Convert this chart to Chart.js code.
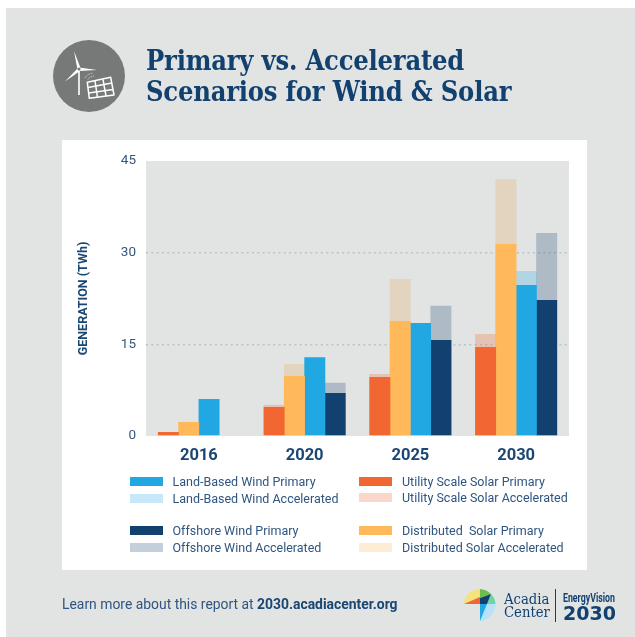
<!DOCTYPE html>
<html>
<head>
<meta charset="utf-8">
<script src="https://cdn.jsdelivr.net/npm/chart.js@4"></script>
<style>
html,body{margin:0;padding:0;background:#fff;width:635px;height:637px;overflow:hidden}
#panel{position:absolute;left:6px;top:8px;width:629px;height:629px;background:#e2e4e3}
#card{position:absolute;left:62px;top:140px;width:525px;height:430px;background:#fff}
#chartBox{position:absolute;left:0;top:0;width:635px;height:637px}
.abs{position:absolute;white-space:nowrap}
#title{left:146px;top:45px;font:bold 27px/31px "DejaVu Serif Condensed","DejaVu Serif",serif;letter-spacing:-0.2px;color:#12416f}
.lg{position:absolute;white-space:pre;font:12.5px/14px Roboto,sans-serif;color:#2f5580}
.sw{position:absolute;width:33px;height:9px}
#foot{left:62px;top:596px;font:13.9px/16px Roboto,sans-serif;color:#2f5580}
#foot b{color:#1a4674}
</style>
</head>
<body>
<div id="panel"></div>
<div id="card"></div>
<div id="chartBox"><canvas id="c" width="635" height="637"></canvas></div>

<svg class="abs" style="left:53px;top:40px" width="72" height="72" viewBox="0 0 72 72">
<circle cx="36" cy="36" r="36" fill="#777978"/>
<g fill="#fff">
<polygon points="21,11 27.5,28 24.5,29.5"/>
<polygon points="26,27.5 44,30 26,31"/>
<polygon points="24.5,28.5 27,31 12,41.5"/>
<rect x="25.2" y="30" width="1.6" height="25"/>
</g>
<circle cx="26" cy="29" r="1.6" fill="#777978"/>
<g fill="none" stroke="#fff" stroke-width="1.5" stroke-linejoin="round">
<polygon points="34.3,42.3 57.7,37.3 61,55 36.3,58.3"/>
<line x1="35" y1="47.5" x2="58.8" y2="43"/>
<line x1="35.7" y1="53" x2="60" y2="49.5"/>
<line x1="42" y1="41" x2="44.5" y2="57.5"/>
<line x1="50" y1="39.5" x2="53" y2="56"/>
</g>
<path d="M32,38 Q34,34 40,33" fill="none" stroke="#e2e4e3" stroke-width="1" stroke-dasharray="1 1"/>
<path d="M35,39.5 Q36,37 41,36" fill="none" stroke="#e2e4e3" stroke-width="1" stroke-dasharray="1 1"/>
</svg>

<div id="title" class="abs">Primary vs. Accelerated<br>Scenarios for Wind &amp; Solar</div>
<div id="legend"></div>
<div id="foot" class="abs">Learn more about this report at <b>2030.acadiacenter.org</b></div>

<svg class="abs" style="left:460px;top:586px" width="40" height="40" viewBox="0 0 40 40">
<path d="M4,18 A16,15 0 0 1 20,3 L20,11 Z" fill="#f5e27a"/>
<polygon points="4,18 20,11 20,18" fill="#f26631"/>
<path d="M20,3 A16,15 0 0 1 31,8 L20,12 Z" fill="#6cc04a"/>
<path d="M31,8 A16,15 0 0 1 35.5,18 L27,18 Z" fill="#6fd5a5"/>
<polygon points="20,18 20,12 31,8 27,18" fill="#12416f"/>
<path d="M20,35 A16,17 0 0 0 35.5,18 L27,18 Z" fill="#b8e2f8"/>
<polygon points="20,18 27,18 20,35" fill="#21a7e1"/>
</svg>
<div class="abs" style="left:504px;top:592px;font:14.7px/13px 'DejaVu Serif Condensed','DejaVu Serif',serif;color:#12416f">Acadia<br>Center</div>
<div class="abs" style="left:555px;top:589px;width:1px;height:33px;background:#12416f"></div>
<svg class="abs" style="left:560px;top:588px" width="64" height="36" viewBox="0 0 64 36">
<text x="3" y="14" textLength="52" lengthAdjust="spacingAndGlyphs" font-family="Roboto" font-weight="bold" font-size="12.5" fill="#12416f">EnergyVision</text>
<text x="3" y="32" textLength="53" lengthAdjust="spacingAndGlyphs" font-family="DejaVu Sans" font-weight="bold" font-size="19" fill="#12416f">2030</text>
</svg>

<script>
const categories = ['2016', '2020', '2025', '2030'];
const yTicks = [0, 15, 30, 45];
const yAxisTitle = 'GENERATION (TWh)';

const utilityPrimary = [0.65, 4.75, 9.65, 14.55];
const utilityAccelerated = [null, 5.1, 10.15, 16.7];
const distributedPrimary = [2.3, 9.8, 18.8, 31.4];
const distributedAccelerated = [null, 11.8, 25.7, 42];
const landPrimary = [6.05, 12.9, 18.5, 24.7];
const landAccelerated = [null, null, null, 27];
const offshorePrimary = [null, 7.05, 15.7, 22.25];
const offshoreAccelerated = [null, 8.7, 21.3, 33.2];

const legendLeft = [
  ['Land-Based Wind Primary', '#21a7e1', 481.5],
  ['Land-Based Wind Accelerated', '#c6e8f8', 498.5],
  ['Offshore Wind Primary', '#12416f', 530.5],
  ['Offshore Wind Accelerated', '#c3cfda', 547.5]
];
const legendRight = [
  ['Utility Scale Solar Primary', '#f26631', 481.5],
  ['Utility Scale Solar Accelerated', '#fbd6cc', 497.5],
  ['Distributed  Solar Primary', '#ffb95a', 530.5],
  ['Distributed Solar Accelerated', '#feecd4', 547.5]
];

function addLegend(rows, swatchX, textX) {
  const host = document.getElementById('legend');
  rows.forEach(([label, color, y]) => {
    const s = document.createElement('div');
    s.className = 'sw';
    s.style.cssText = `left:${swatchX}px;top:${y - 4.5}px;background:${color}`;
    const t = document.createElement('div');
    t.className = 'lg';
    t.style.cssText = `left:${textX}px;top:${Math.round(y - 7)}px`;
    t.textContent = label;
    host.append(s, t);
  });
}
addLegend(legendLeft, 130, 172.5);
addLegend(legendRight, 359, 402);

const plotBackground = {
  id: 'plotBackground',
  beforeDraw(chart) {
    const a = chart.chartArea, g = chart.ctx;
    g.save();
    g.fillStyle = '#e2e4e3';
    g.fillRect(a.left, a.top, a.width, a.height);
    g.restore();
  }
};

const barBase = { borderWidth: 0, barPercentage: 1.03, categoryPercentage: 0.77 };
const series = (data, color, stack) => ({ ...barBase, data, backgroundColor: color, stack });

new Chart(document.getElementById('c'), {
  type: 'bar',
  plugins: [plotBackground],
  data: {
    labels: categories,
    datasets: [
      series(utilityPrimary, '#f26631', 'utility'),
      series(distributedPrimary, '#ffb95a', 'distributed'),
      series(landPrimary, '#21a7e1', 'land'),
      series(offshorePrimary, '#12416f', 'offshore'),
      series(utilityAccelerated, 'rgba(242,102,49,0.27)', 'utility'),
      series(distributedAccelerated, 'rgba(228,196,157,0.5)', 'distributed'),
      series(landAccelerated, 'rgba(33,167,225,0.25)', 'land'),
      series(offshoreAccelerated, 'rgba(18,65,111,0.25)', 'offshore')
    ]
  },
  options: {
    responsive: false,
    animation: false,
    layout: { padding: { left: 76, right: 66, top: 161, bottom: 175 } },
    plugins: { legend: { display: false }, title: { display: false }, tooltip: { enabled: false } },
    scales: {
      x: {
        stacked: true,
        grid: { display: false, drawTicks: false },
        border: { display: false },
        ticks: { color: '#1a4674', font: { family: 'Roboto', size: 16.5, weight: 'bold' }, padding: 10 },
        afterFit(s) { s.height = 26; }
      },
      y: {
        stacked: false,
        min: 0,
        max: 45,
        afterBuildTicks(s) { s.ticks = yTicks.map(v => ({ value: v })); },
        border: { display: false, dash: [2, 3.3] },
        grid: {
          drawTicks: false,
          color: ctx => (ctx.tick.value === 15 || ctx.tick.value === 30) ? '#b8c4cb' : 'rgba(0,0,0,0)',
          lineWidth: 1.5
        },
        ticks: { color: '#35577e', font: { family: 'Roboto', size: 13.5 }, padding: 10 },
        title: {
          display: true,
          text: yAxisTitle,
          color: '#1a4674',
          font: { family: 'Roboto', size: 12.5, weight: 'bold' },
          padding: 0
        },
        afterFit(s) { s.width = 70; }
      }
    }
  }
});
</script>
</body>
</html>
